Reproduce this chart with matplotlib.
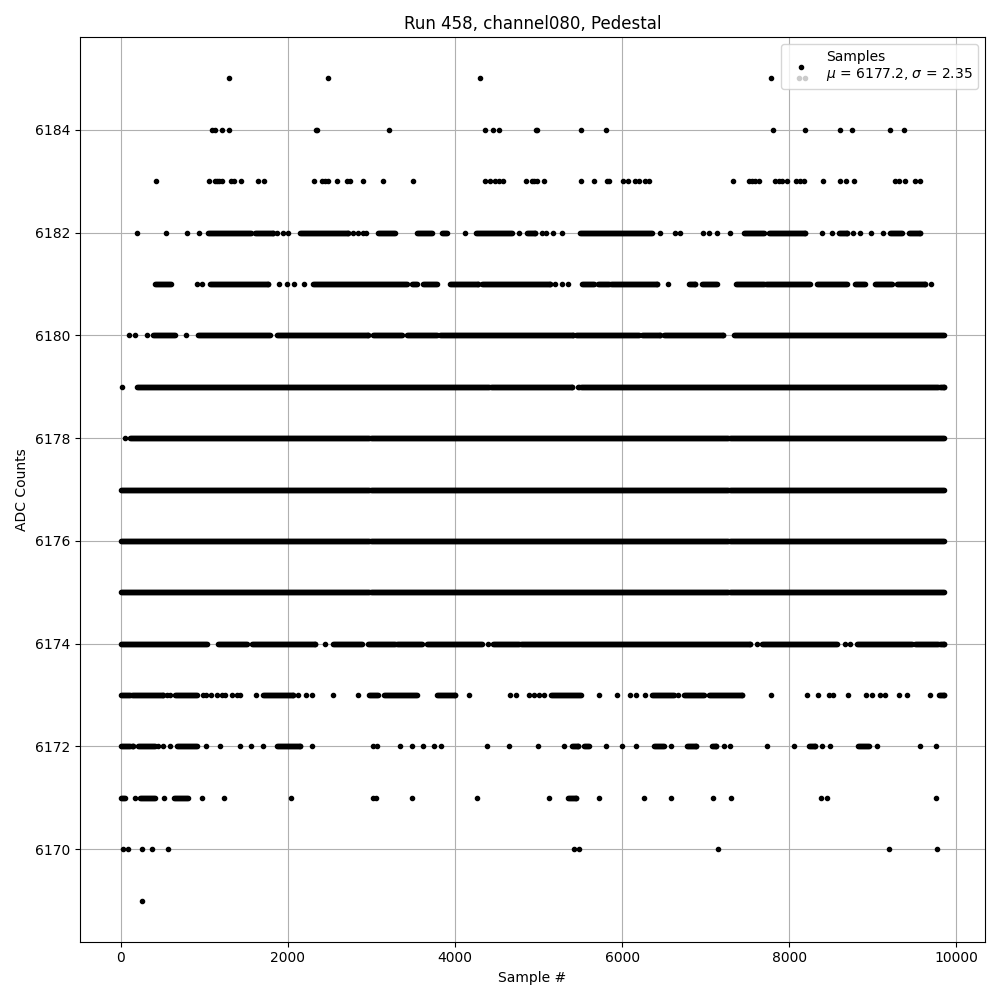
import numpy as np
import matplotlib
matplotlib.use("Agg")
import matplotlib.pyplot as plt

title = "Run 458, channel080, Pedestal"
x_label = "Sample #"
y_label = "ADC Counts"
mean_adc = 6177.2
sigma_adc = 2.35
last_sample = 9849

# Runs of samples (first, last) for each ADC level.
adc_6185 = [(1297, 1297), (2483, 2483), (4299, 4299), (7785, 7785), (8110, 8110), (8190, 8190)]
adc_6184 = [(1086, 1086), (1126, 1126), (1206, 1206), (1297, 1297), (2335, 2335), (2350, 2350),
            (3213, 3213), (4363, 4363), (4459, 4459), (4531, 4531), (4965, 4965), (4980, 4980),
            (5509, 5509), (5812, 5812), (7800, 7800), (8183, 8183), (8602, 8602), (8746, 8746),
            (9209, 9209), (9369, 9369)]
adc_6183 = [(423, 423), (1058, 1058), (1126, 1126), (1154, 1154), (1178, 1178), (1206, 1206),
            (1317, 1317), (1353, 1353), (1441, 1441), (1637, 1637), (1713, 1713), (2315, 2315),
            (2403, 2403), (2443, 2443), (2483, 2483), (2587, 2587), (2703, 2703), (2743, 2743),
            (2902, 2902), (3138, 3138), (3501, 3501), (4363, 4363), (4419, 4419), (4479, 4479),
            (4531, 4531), (4571, 4571), (4850, 4850), (4918, 4918), (4946, 4946), (4978, 4978),
            (5066, 5066), (5509, 5509), (5657, 5657), (5816, 5816), (5848, 5848), (6008, 6008),
            (6064, 6064), (6156, 6156), (6207, 6207), (6276, 6276), (6315, 6315), (7321, 7321),
            (7513, 7513), (7553, 7553), (7593, 7593), (7641, 7641), (7824, 7824), (7872, 7872),
            (7912, 7912), (7972, 7972), (8084, 8084), (8132, 8132), (8172, 8172), (8399, 8399),
            (8602, 8602), (8682, 8682), (8778, 8778), (9270, 9270), (9309, 9309), (9381, 9381),
            (9509, 9509), (9561, 9561)]
adc_6182 = [(188, 188), (539, 539), (787, 787), (938, 938), (1046, 1553), (1605, 1824),
            (1864, 1864), (1936, 1936), (2004, 2004), (2144, 2722), (2782, 2782), (2842, 2842),
            (2902, 2902), (2934, 2934), (3082, 3282), (3541, 3721), (3841, 3901), (4120, 4120),
            (4252, 4679), (4770, 4770), (4858, 4958), (5038, 5038), (5090, 5090), (5177, 5177),
            (5278, 5278), (5497, 6356), (6447, 6447), (6635, 6635), (6695, 6695), (6966, 6966),
            (7034, 7034), (7134, 7134), (7285, 7285), (7453, 7692), (7752, 8192), (8391, 8391),
            (8511, 8511), (8591, 8691), (8762, 8762), (8850, 8850), (8978, 8978), (9122, 9122),
            (9209, 9349), (9429, 9569)]
adc_6181 = [(407, 595), (906, 906), (966, 966), (1066, 1764), (1896, 1896), (1984, 1984),
            (2076, 2076), (2192, 2192), (2296, 3421), (3481, 3541), (3621, 3781), (3940, 4280),
            (4320, 5138), (5198, 5198), (5278, 5278), (5357, 5357), (5517, 5657), (5716, 6415),
            (6543, 6543), (6794, 6874), (6954, 7134), (7365, 7692), (7724, 8251), (8331, 8691),
            (8790, 8910), (9030, 9229), (9289, 9628), (9697, 9697)]
adc_6180 = [(100, 100), (171, 171), (315, 315), (387, 647), (778, 778), (926, 1784),
            (1864, 2962), (3022, 3362), (3421, 3781), (3820, 5417), (5449, 6196), (6236, 6455),
            (6495, 7205), (7333, 9849)]
adc_6179 = [(16, 16), (188, 5397), (5477, 9849)]
adc_6178 = [(48, 48), (108, 9849)]
adc_6177 = [(0, 9849)]
adc_6176 = [(0, 9849)]
adc_6175 = [(0, 9849)]
adc_6174 = [(0, 1026), (1166, 1505), (1565, 2323), (2443, 2443), (2543, 2882), (2962, 3282),
            (3309, 3601), (3661, 4320), (4399, 4399), (4459, 7533), (7613, 7613), (7673, 8571),
            (8671, 8671), (8730, 8730), (8810, 9469), (9509, 9849)]
adc_6173 = [(8, 507), (547, 547), (587, 587), (647, 906), (978, 978), (1018, 1018),
            (1074, 1074), (1154, 1154), (1206, 1206), (1249, 1249), (1325, 1325), (1385, 1385),
            (1425, 1425), (1613, 1613), (1697, 2064), (2124, 2124), (2216, 2216), (2284, 2284),
            (2543, 2543), (2842, 2842), (2974, 3082), (3150, 3541), (3781, 4000), (4172, 4172),
            (4659, 4659), (4731, 4731), (4890, 4890), (4946, 4946), (5010, 5010), (5070, 5070),
            (5150, 5509), (5728, 5728), (5936, 5936), (6088, 6088), (6168, 6168), (6267, 6267),
            (6356, 6615), (6663, 6663), (6735, 6974), (7034, 7433), (7781, 7781), (8212, 8212),
            (8339, 8339), (8471, 8471), (8523, 8523), (8698, 8698), (8922, 8922), (8990, 8990),
            (9082, 9082), (9142, 9142), (9309, 9309), (9409, 9409), (9680, 9680), (9788, 9849)]
adc_6172 = [(8, 148), (207, 407), (447, 447), (507, 507), (587, 587), (675, 914), (1018, 1018),
            (1189, 1189), (1429, 1429), (1553, 1553), (1701, 1701), (1864, 2144), (2284, 2284),
            (3022, 3022), (3062, 3062), (3341, 3341), (3481, 3481), (3621, 3621), (3753, 3753),
            (3832, 3832), (4387, 4387), (4651, 4651), (4998, 4998), (5309, 5309), (5397, 5477),
            (5545, 5597), (5804, 5804), (5996, 5996), (6164, 6164), (6383, 6503), (6583, 6583),
            (6775, 6886), (7074, 7126), (7213, 7213), (7285, 7285), (7732, 7732), (8052, 8052),
            (8231, 8311), (8391, 8391), (8483, 8483), (8818, 8950), (9050, 9050), (9561, 9561),
            (9752, 9752)]
adc_6171 = [(8, 48), (168, 168), (227, 407), (519, 519), (639, 806), (966, 966), (1237, 1237),
            (2032, 2032), (3022, 3022), (3054, 3054), (3489, 3489), (4268, 4268), (5130, 5130),
            (5349, 5449), (5728, 5728), (6255, 6255), (6579, 6579), (7082, 7082), (7297, 7297),
            (8379, 8379), (8451, 8451), (9752, 9752)]
adc_6170 = [(28, 28), (88, 88), (255, 255), (375, 375), (567, 567), (5425, 5425), (5489, 5489),
            (7142, 7142), (9189, 9189), (9764, 9764)]
adc_6169 = [(255, 255)]

levels = [6185, 6184, 6183, 6182, 6181, 6180, 6179, 6178, 6177, 6176, 6175, 6174, 6173,
          6172, 6171, 6170, 6169]
level_runs = [adc_6185, adc_6184, adc_6183, adc_6182, adc_6181, adc_6180, adc_6179, adc_6178,
              adc_6177, adc_6176, adc_6175, adc_6174, adc_6173, adc_6172, adc_6171, adc_6170,
              adc_6169]

run_step = 12  # samples within a continuous run are drawn with this spacing

xs, ys = [], []
for lvl, runs in zip(levels, level_runs):
    for a, b in runs:
        pts = np.arange(a, b + 1, run_step) if b > a else np.array([a])
        if b > a and pts[-1] != b:
            pts = np.append(pts, b)
        xs.append(pts)
        ys.append(np.full(len(pts), lvl))
x = np.concatenate(xs)
y = np.concatenate(ys)

fig, ax = plt.subplots(figsize=(10, 10), dpi=100)
ax.plot(x, y, "k.", linestyle="none",
        label="Samples\n$\\mu$ = %.1f, $\\sigma$ = %.2f" % (mean_adc, sigma_adc))
ax.set_title(title)
ax.set_xlabel(x_label)
ax.set_ylabel(y_label)
ax.set_xticks([0, 2000, 4000, 6000, 8000, 10000])
ax.set_yticks(np.arange(6170, 6185, 2))
ax.grid(True)
ax.legend(loc="upper right")
fig.tight_layout()
fig.savefig("out.png")
